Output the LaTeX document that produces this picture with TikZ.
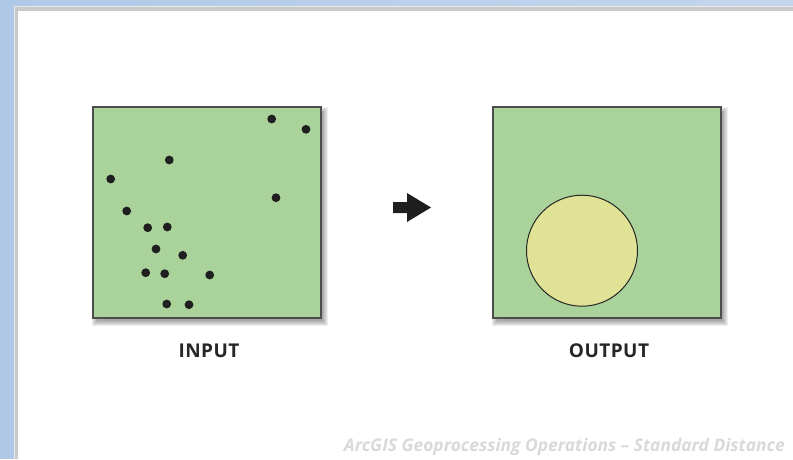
\documentclass[tikz,border=0pt]{standalone}
\usepackage{fontspec}
\setmainfont{Open Sans}
\usetikzlibrary{shapes.geometric}
\definecolor{bgblue}{HTML}{B0C9E7}
\definecolor{bgblueR}{HTML}{C4D6EE}
\definecolor{frame}{HTML}{C9C9C9}
\definecolor{boxgreen}{HTML}{A9D39A}
\definecolor{boxline}{HTML}{4D4D4D}
\definecolor{sdyellow}{HTML}{E0E395}
\definecolor{foot}{HTML}{D9D9D9}
\definecolor{lbl}{HTML}{262626}
\tikzset{
  panel/.style={draw=boxline, line width=1.5pt, fill=boxgreen, minimum width=228pt, minimum height=211pt, inner sep=0pt},
  pt/.style={circle, fill=black!88, minimum size=8.8pt, inner sep=0pt},
  lab/.style={font=\bfseries\fontsize{19}{20}\selectfont\addfontfeatures{LetterSpace=2.5}, text=lbl, inner sep=0pt},
  footer/.style={font=\bfseries\itshape\fontsize{17.4}{18}\selectfont, text=foot, inner sep=0pt, anchor=base east}
}
\newcommand{\boxshadow}[4]{% x0 y0 x1 y1
  \foreach \s in {0,1,...,5}{
    \fill[black, opacity=0.065] ({#1+3-\s+1}, {#2+4-\s+1}) rectangle ({#3+3+\s-1}, {#4+4+\s-1});
  }}
\begin{document}
\begin{tikzpicture}[x=1pt,y=-1pt]
\useasboundingbox (0,0) rectangle (793,459);
% window background
\fill[bgblue] (0,0) rectangle (793,459);
\shade[left color=bgblue, right color=bgblueR] (0,0) rectangle (793,6);
\fill[white!60!frame] (13.5,6) rectangle (793,459);
\fill[frame] (14.5,7) rectangle (793,459);
\fill[white] (18,11) rectangle (793,459);
% shadows
\boxshadow{93}{107}{321}{318}
\boxshadow{493}{107}{721}{318}
% panels
\node[panel] (input) at (207,212.5) {};
\node[panel] (output) at (607,212.5) {};
% points
\foreach \i/\x/\y in {1/271.7/119, 2/306/129.3, 3/169.3/160, 4/110.7/179, 5/276/197.7,
  6/126.7/211, 7/147.7/227.7, 8/167.3/227, 9/156/249, 10/182.7/255.3,
  11/145.7/272.7, 12/164.7/273.7, 13/209.7/275, 14/166.7/304, 15/189/304.7}{
  \node[pt] (p\i) at (\x,\y) {};
}
% standard distance circle
\node[circle, draw=black!85, line width=1pt, fill=sdyellow, minimum size=111pt, inner sep=0pt] (sd) at (582,250.7) {};
% arrow
\fill[black!88] (393,202) -- (407,202) -- (407,193) -- (431,207.5) -- (407,222) -- (407,213) -- (393,213) -- cycle;
% labels
\node[lab] (inlab) at (209,350.5) {INPUT};
\node[lab] (outlab) at (609,350.5) {OUTPUT};
\node[footer] (foot) at (785,451) {ArcGIS Geoprocessing Operations – Standard Distance};
\end{tikzpicture}
\end{document}
